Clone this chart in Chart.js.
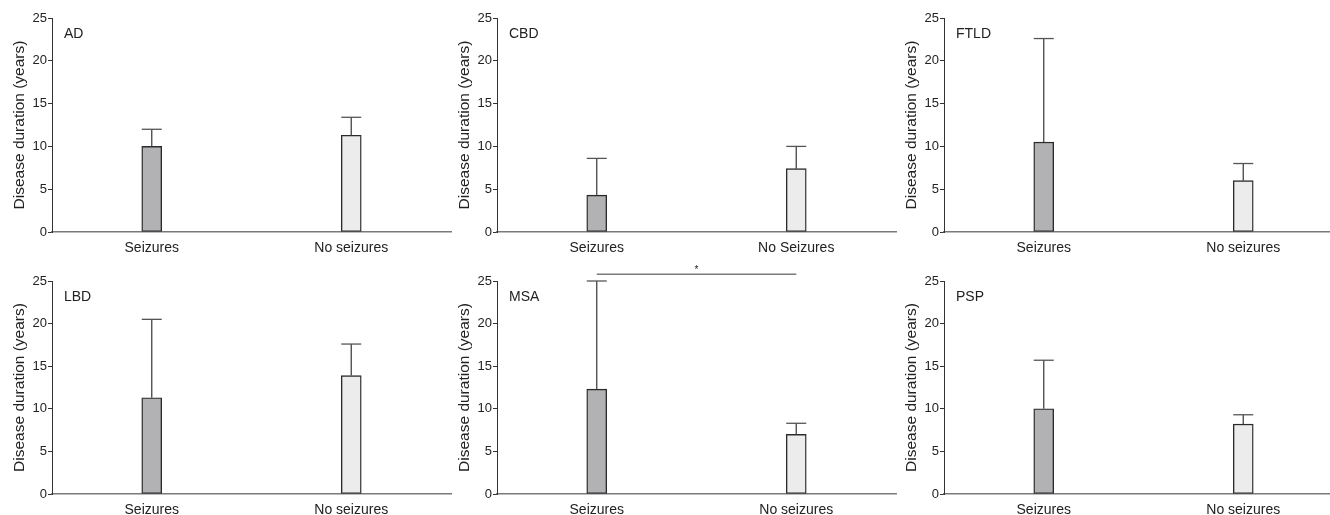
<!DOCTYPE html>
<html>
<head>
<meta charset="utf-8">
<script src="https://cdn.jsdelivr.net/npm/chart.js@4.4.1/dist/chart.umd.min.js"></script>
<style>
  html, body { margin: 0; padding: 0; background: #fff; overflow: hidden; }
  body { width: 1330px; height: 515px; position: relative; }
  .panel { position: absolute; width: 452px; }
  .top { top: 0; height: 258px; }
  .bottom { top: 258px; height: 257px; }
</style>
</head>
<body>
<div class="panel top" style="left:0px"><canvas id="c0"></canvas></div>
<div class="panel top" style="left:445px"><canvas id="c1"></canvas></div>
<div class="panel top" style="left:892px"><canvas id="c2"></canvas></div>
<div class="panel bottom" style="left:0px"><canvas id="c3"></canvas></div>
<div class="panel bottom" style="left:445px"><canvas id="c4"></canvas></div>
<div class="panel bottom" style="left:892px"><canvas id="c5"></canvas></div>
<script>
const panelNames = ['AD', 'CBD', 'FTLD', 'LBD', 'MSA', 'PSP'];
const noSeizureLabels = ['No seizures', 'No Seizures', 'No seizures', 'No seizures', 'No seizures', 'No seizures'];
const seizuresMean = [10.0, 4.3, 10.5, 11.3, 12.3, 10.0];
const seizuresUpper = [12.0, 8.6, 22.6, 20.5, 25.0, 15.7];
const noSeizuresMean = [11.3, 7.4, 6.0, 13.9, 7.0, 8.2];
const noSeizuresUpper = [13.4, 10.0, 8.0, 17.6, 8.3, 9.3];
const sigLevel = [null, null, null, null, 25.8, null];
const yTicks = [0, 5, 10, 15, 20, 25];

const fontFam = '"Liberation Sans", Arial, Helvetica, sans-serif';

// error bars, panel label and the asterisk
const extras = {
  id: 'extras',
  afterDatasetsDraw(chart, args, opts) {
    const ctx = chart.ctx;
    const y = chart.scales.y;
    const bars = chart.getDatasetMeta(0).data;
    ctx.save();
    bars.forEach((bar, i) => {
      const top = y.getPixelForValue(opts.upper[i]);
      ctx.strokeStyle = '#444';
      ctx.lineWidth = 1.3;
      ctx.beginPath();
      ctx.moveTo(bar.x, bar.y);
      ctx.lineTo(bar.x, top);
      ctx.stroke();
      ctx.strokeStyle = '#555';
      ctx.beginPath();
      ctx.moveTo(bar.x - 10, top);
      ctx.lineTo(bar.x + 10, top);
      ctx.stroke();
    });
    ctx.fillStyle = '#222';
    ctx.font = '14px ' + fontFam;
    ctx.textBaseline = 'top';
    ctx.textAlign = 'left';
    ctx.fillText(opts.name, chart.chartArea.left + 12, chart.chartArea.top + 9);
    if (opts.sig != null) {
      const pts = chart.getDatasetMeta(1).data;
      ctx.font = '10px ' + fontFam;
      ctx.textAlign = 'center';
      ctx.textBaseline = 'bottom';
      ctx.fillText('*', (pts[0].x + pts[1].x) / 2, pts[0].y + 1);
    }
    ctx.restore();
  }
};

panelNames.forEach((name, i) => {
  const topRow = i < 3;
  const datasets = [{
    type: 'bar',
    data: [seizuresMean[i], noSeizuresMean[i]],
    backgroundColor: ['#b2b2b5', '#ececec'],
    borderColor: '#2b2b2b',
    borderWidth: 1.4,
    borderSkipped: false,
    barThickness: 20
  }];
  if (sigLevel[i] != null) {
    datasets.push({
      type: 'line',
      data: [sigLevel[i], sigLevel[i]],
      borderColor: '#7a7a7a',
      borderWidth: 1.5,
      pointRadius: 0,
      clip: false
    });
  }
  new Chart(document.getElementById('c' + i), {
    type: 'bar',
    data: {
      labels: ['Seizures', noSeizureLabels[i]],
      datasets: datasets
    },
    options: {
      responsive: true,
      maintainAspectRatio: false,
      animation: false,
      events: [],
      layout: { padding: { top: topRow ? 18 : 23, right: 1, left: 0, bottom: 0 } },
      plugins: {
        legend: { display: false },
        tooltip: { enabled: false },
        extras: { upper: [seizuresUpper[i], noSeizuresUpper[i]], name: name, sig: sigLevel[i] }
      },
      scales: {
        x: {
          offset: true,
          grid: { display: false },
          border: { color: '#7a7a7a', width: 1.5 },
          ticks: { color: '#222', font: { family: fontFam, size: 14 }, padding: 0 },
          afterFit(scale) { scale.height = topRow ? 26 : 21; }
        },
        y: {
          min: 0,
          max: 25,
          afterBuildTicks(scale) { scale.ticks = yTicks.map(v => ({ value: v })); },
          grid: { drawOnChartArea: false, tickLength: 4, color: '#333', tickWidth: 1 },
          border: { color: '#333', width: 1 },
          ticks: { color: '#222', font: { family: fontFam, size: 13 }, padding: 1 },
          title: {
            display: true,
            text: 'Disease duration (years)',
            color: '#222',
            font: { family: fontFam, size: 15.5 },
            padding: { top: 10, bottom: 0 }
          },
          afterFit(scale) { scale.width = 52; }
        }
      }
    },
    plugins: [extras]
  });
});
</script>
</body>
</html>
